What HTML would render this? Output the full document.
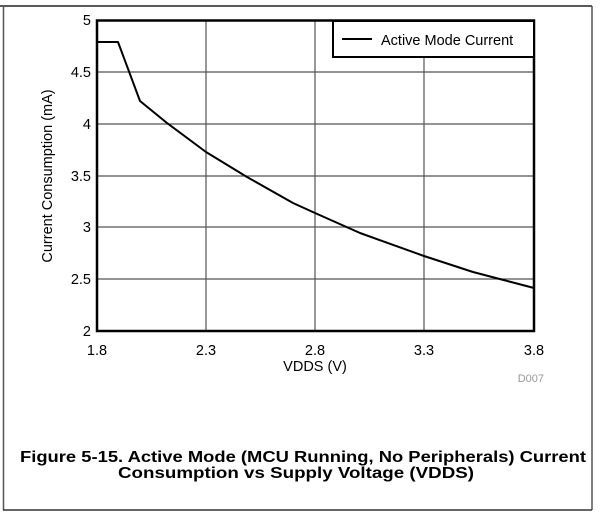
<!DOCTYPE html>
<html><head><style>
html,body{margin:0;padding:0;background:#fff;width:609px;height:512px;overflow:hidden}
</style></head><body>
<svg width="609" height="512" xmlns="http://www.w3.org/2000/svg" font-family="Liberation Sans, Arial, sans-serif">
<line x1="0" y1="6" x2="592" y2="6" stroke="#222" stroke-width="1.5"/>
<line x1="3.5" y1="6" x2="3.5" y2="510" stroke="#555" stroke-width="1.5"/>
<line x1="592" y1="6" x2="592" y2="510" stroke="#555" stroke-width="1.5"/>
<line x1="3" y1="510" x2="592" y2="510" stroke="#333" stroke-width="1.5"/>
<g stroke="#555" stroke-width="1.2">
<line x1="206" y1="20" x2="206" y2="331"/>
<line x1="315" y1="20" x2="315" y2="331"/>
<line x1="424" y1="20" x2="424" y2="331"/>
<line x1="97" y1="72" x2="534" y2="72"/>
<line x1="97" y1="124" x2="534" y2="124"/>
<line x1="97" y1="176" x2="534" y2="176"/>
<line x1="97" y1="227" x2="534" y2="227"/>
<line x1="97" y1="279" x2="534" y2="279"/>
</g>
<rect x="97" y="20.5" width="437" height="310.5" fill="none" stroke="#000" stroke-width="2.5"/>
<polyline fill="none" stroke="#000" stroke-width="2" stroke-linejoin="round" points="97,42 118,42 140,101 167,123 206,152 247,177 293,203 315,213 360,233 424,256 473,272 534,288"/>
<rect x="333" y="21" width="201" height="36" fill="#fff" stroke="#000" stroke-width="2"/>
<line x1="342" y1="39" x2="372" y2="39" stroke="#000" stroke-width="2"/>
<text x="381" y="45" font-size="14.5">Active Mode Current</text>
<g font-size="14.5" text-anchor="end">
<text x="91" y="25">5</text>
<text x="91" y="77">4.5</text>
<text x="91" y="129">4</text>
<text x="91" y="181">3.5</text>
<text x="91" y="232">3</text>
<text x="91" y="284">2.5</text>
<text x="91" y="336">2</text>
</g>
<g font-size="14.5" text-anchor="middle">
<text x="97" y="355">1.8</text>
<text x="206" y="355">2.3</text>
<text x="315" y="355">2.8</text>
<text x="424" y="355">3.3</text>
<text x="534" y="355">3.8</text>
<text x="315" y="371">VDDS (V)</text>
</g>
<text x="544" y="382" font-size="11" fill="#999" text-anchor="end">D007</text>
<text transform="translate(52,176) rotate(-90)" font-size="14.5" text-anchor="middle">Current Consumption (mA)</text>
<text x="20" y="462" font-size="16" font-weight="bold" textLength="566" lengthAdjust="spacingAndGlyphs">Figure 5-15. Active Mode (MCU Running, No Peripherals) Current</text>
<text x="118" y="478" font-size="16" font-weight="bold" textLength="356" lengthAdjust="spacingAndGlyphs">Consumption vs Supply Voltage (VDDS)</text>
</svg>
</body></html>
